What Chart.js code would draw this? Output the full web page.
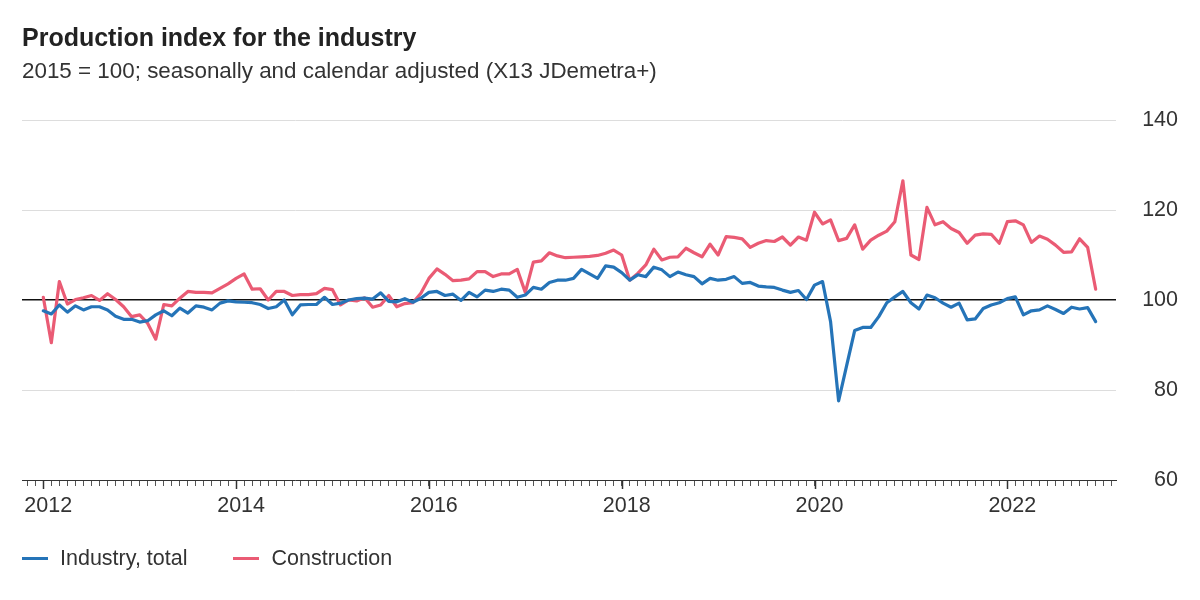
<!DOCTYPE html>
<html>
<head>
<meta charset="utf-8">
<script src="https://cdn.jsdelivr.net/npm/chart.js@4.4.0/dist/chart.umd.min.js"></script>
<style>
html,body{margin:0;padding:0;background:#fff;}
#wrap{position:relative;width:1200px;height:600px;overflow:hidden;font-family:"Liberation Sans",Arial,sans-serif;color:#333;}
#title{position:absolute;left:22px;top:25px;font-size:25px;line-height:25px;font-weight:bold;color:#222;white-space:nowrap;}
#subtitle{position:absolute;left:22px;top:60px;font-size:22.4px;line-height:22px;color:#333;white-space:nowrap;}
#legend{position:absolute;left:22px;top:546px;height:24px;display:flex;align-items:center;font-size:21.5px;color:#333;white-space:nowrap;}
.item{display:flex;align-items:center;margin-right:46px;}
.sw{width:26px;height:3px;margin-right:12px;}
canvas{position:absolute;left:0;top:0;}
</style>
</head>
<body>
<div id="wrap">
  <canvas id="c" width="1200" height="600"></canvas>
  <div id="title">Production index for the industry</div>
  <div id="subtitle">2015 = 100; seasonally and calendar adjusted (X13 JDemetra+)</div>
  <div id="legend"></div>
</div>
<script>
// ---- data (monthly, Jan 2012 – Dec 2022) ----
const startYear = 2012;
const seriesNames = ['Industry, total', 'Construction'];
const seriesColors = ['#2574b8', '#ea5b74'];
const yTickValues = [60, 80, 100, 120, 140];

const industry = [
  97.6, 96.9, 98.9, 97.3, 98.7, 97.8, 98.5, 98.5, 97.8, 96.4, 95.7, 95.7,
  95.1, 95.4, 96.7, 97.6, 96.5, 98.2, 97.1, 98.7, 98.4, 97.8, 99.3, 99.8,
  99.6, 99.5, 99.4, 99.0, 98.1, 98.5, 100.0, 96.7, 98.9, 99.0, 99.0, 100.6,
  99.0, 99.3, 100.0, 100.3, 100.4, 100.2, 101.6, 99.7, 99.6, 100.3, 99.5, 100.4,
  101.7, 101.9, 101.0, 101.3, 99.9, 101.7, 100.7, 102.2, 101.9, 102.4, 102.2, 100.6,
  101.1, 102.8, 102.4, 103.9, 104.4, 104.4, 104.8, 106.8, 105.8, 104.8, 107.6, 107.3,
  106.1, 104.4, 105.6, 105.2, 107.3, 106.7, 105.2, 106.2, 105.6, 105.2, 103.6, 104.8,
  104.4, 104.6, 105.2, 103.7, 103.9, 103.1, 102.9, 102.8, 102.2, 101.7, 102.1, 100.1,
  103.3, 104.1, 95.2, 77.6, 85.4, 93.2, 93.9, 93.9, 96.3, 99.4, 100.7, 101.9,
  99.4, 98.0, 101.1, 100.5, 99.3, 98.4, 99.3, 95.6, 95.8, 98.1, 98.9, 99.4,
  100.3, 100.7, 96.7, 97.6, 97.8, 98.7, 97.9, 97.0, 98.4, 98.0, 98.3, 95.2
];

const construction = [
  100.6, 90.5, 104.1, 99.1, 100.1, 100.5, 101.0, 99.9, 101.4, 100.1, 98.5, 96.3,
  96.7, 94.8, 91.3, 99.0, 98.7, 100.4, 101.9, 101.7, 101.7, 101.6, 102.6, 103.6,
  104.8, 105.8, 102.4, 102.5, 100.0, 101.9, 101.9, 101.0, 101.2, 101.2, 101.4, 102.6,
  102.3, 98.9, 100.0, 99.8, 100.5, 98.4, 98.9, 101.0, 98.5, 99.2, 99.4, 101.5,
  104.8, 106.9, 105.7, 104.3, 104.4, 104.7, 106.3, 106.3, 105.2, 105.8, 105.8, 106.8,
  101.7, 108.4, 108.7, 110.5, 109.8, 109.4, 109.5, 109.6, 109.7, 109.9, 110.4, 111.1,
  110.0, 104.4, 105.9, 107.8, 111.3, 108.9, 109.5, 109.6, 111.5, 110.5, 109.6, 112.4,
  110.0, 114.1, 113.9, 113.6, 111.7, 112.6, 113.2, 113.0, 114.0, 112.2, 114.0, 113.3,
  119.5, 116.9, 117.8, 113.2, 113.7, 116.7, 111.3, 113.3, 114.4, 115.3, 117.4, 126.5,
  110.0, 109.0, 120.6, 116.7, 117.4, 115.9, 115.0, 112.6, 114.4, 114.7, 114.6, 112.6,
  117.4, 117.6, 116.7, 112.8, 114.2, 113.5, 112.2, 110.6, 110.7, 113.6, 111.7, 102.4
];

// ---- legend (HTML) ----
const legendEl = document.getElementById('legend');
seriesNames.forEach((name, k) => {
  const it = document.createElement('div');
  it.className = 'item';
  const sw = document.createElement('div');
  sw.className = 'sw';
  sw.style.background = seriesColors[k];
  const tx = document.createElement('span');
  tx.textContent = name;
  it.appendChild(sw); it.appendChild(tx);
  legendEl.appendChild(it);
});

const FONT = "'Liberation Sans', Arial, sans-serif";
const toPoints = arr => arr.map((v, i) => ({x: i, y: v}));

const majorTicks = {
  id: 'majorTicks',
  afterDraw(chart) {
    const s = chart.scales.x;
    const ctx = chart.ctx;
    ctx.save();
    ctx.strokeStyle = '#333';
    ctx.lineWidth = 1.5;
    for (let v = 0; v <= s.max; v += 24) {
      const px = Math.round(s.getPixelForValue(v)) + 0.5;
      ctx.beginPath();
      ctx.moveTo(px, s.top);
      ctx.lineTo(px, s.top + 9);
      ctx.stroke();
    }
    ctx.restore();
  }
};

new Chart(document.getElementById('c'), {
  type: 'line',
  data: {
    datasets: [
      {label: seriesNames[0], data: toPoints(industry), borderColor: seriesColors[0], backgroundColor: seriesColors[0]},
      {label: seriesNames[1], data: toPoints(construction), borderColor: seriesColors[1], backgroundColor: seriesColors[1]}
    ]
  },
  options: {
    responsive: false,
    animation: false,
    devicePixelRatio: 1,
    layout: {padding: {top: 120, left: 22, right: 22, bottom: 80}},
    plugins: {legend: {display: false}, tooltip: {enabled: false}, title: {display: false}},
    elements: {
      point: {radius: 0, hoverRadius: 0},
      line: {borderWidth: 3.2, tension: 0, borderJoinStyle: 'round', borderCapStyle: 'round', fill: false}
    },
    scales: {
      x: {
        type: 'linear',
        min: -2.65,
        max: 133.53,
        border: {display: true, color: '#333', width: 1},
        grid: {drawOnChartArea: false, drawTicks: true, tickLength: 6, tickColor: '#555', tickWidth: 1},
        ticks: {
          stepSize: 1, includeBounds: false, autoSkip: false, maxRotation: 0, minRotation: 0,
          maxTicksLimit: 1000, padding: 7, labelOffset: 5,
          font: {size: 21.5, family: FONT}, color: '#333',
          callback: v => (v % 24 === 0 ? String(startYear + v / 12) : '')
        },
        afterFit: s => { s.height = 40; }
      },
      y: {
        position: 'right',
        min: yTickValues[0],
        max: yTickValues[yTickValues.length - 1],
        afterBuildTicks: s => { s.ticks = yTickValues.map(v => ({value: v})); },
        border: {display: false},
        grid: {
          drawTicks: false,
          color: c => (c.tick && c.tick.value === 100 ? '#111' : (c.tick && c.tick.value === 60 ? 'rgba(0,0,0,0)' : '#dddddd')),
          lineWidth: c => (c.tick && c.tick.value === 100 ? 1.5 : 1)
        },
        ticks: {font: {size: 21.5, family: FONT}, color: '#333', crossAlign: 'far', padding: 0},
        afterFit: s => { s.width = 62; }
      }
    }
  },
  plugins: [majorTicks]
});
</script>
</body>
</html>
